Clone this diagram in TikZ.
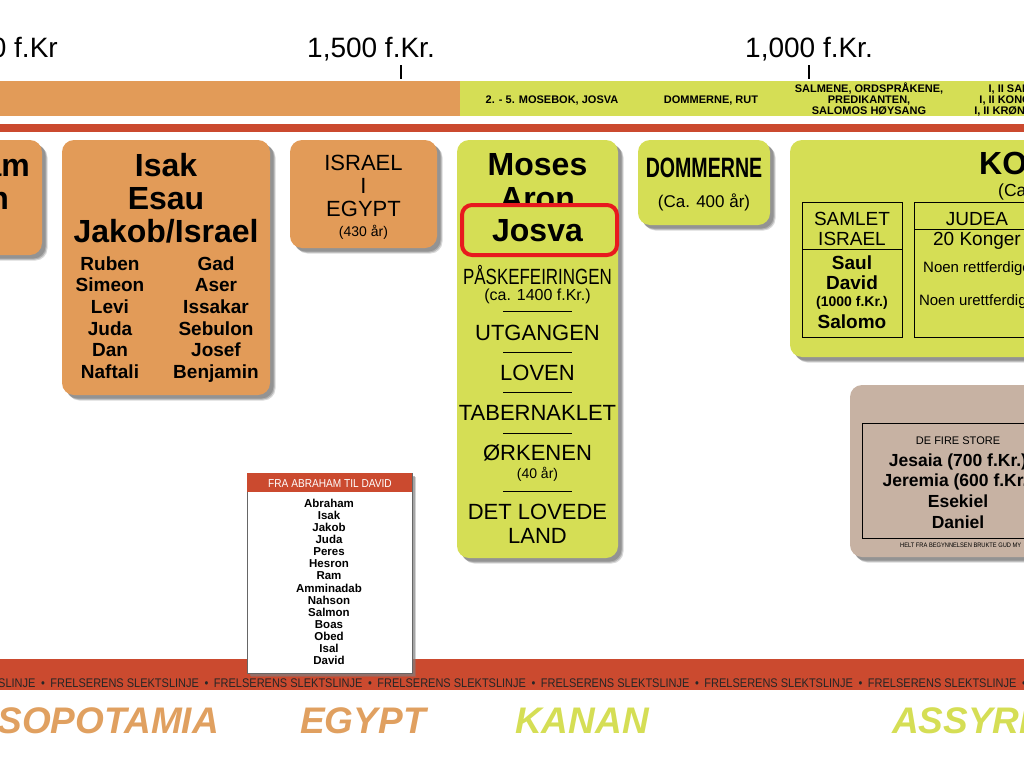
\documentclass[tikz,border=0pt]{standalone}
\usepackage{fontspec}
\setmainfont{Liberation Sans}
\newfontfamily\narrowfont[FakeStretch=0.88]{Liberation Sans}
\newfontfamily\pressfont[FakeStretch=0.77]{Liberation Sans}
\newfontfamily\tightfont[FakeStretch=0.70]{Liberation Sans}
\usetikzlibrary{shadows}

\definecolor{ochre}{RGB}{226,155,88}
\definecolor{lime}{RGB}{213,222,85}
\definecolor{brick}{RGB}{203,74,47}
\definecolor{taupe}{RGB}{199,178,163}
\definecolor{signal}{RGB}{232,25,30}
\definecolor{ochretext}{RGB}{224,160,96}

\begin{document}
\begin{tikzpicture}[
  x=1pt, y=-1pt,
  every node/.style={inner sep=0pt, anchor=base},
  panel/.style={rounded corners=12pt,
    drop shadow={shadow xshift=5.5pt, shadow yshift=-5.5pt, opacity=.3},
    drop shadow={shadow xshift=4.5pt, shadow yshift=-4.5pt, opacity=.45},
    drop shadow={shadow xshift=3.5pt, shadow yshift=-3.5pt, opacity=.6}},
  year/.style={font=\fontsize{28}{30}\selectfont},
  bandtext/.style={font=\bfseries\fontsize{11}{12}\selectfont},
  heading/.style={font=\bfseries\fontsize{32}{34}\selectfont},
  tribe/.style={font=\bfseries\fontsize{19}{21}\selectfont},
  caps/.style={font=\fontsize{22}{24}\selectfont},
  note/.style={font=\fontsize{14}{16}\selectfont},
  cell/.style={font=\fontsize{19}{21}\selectfont},
  cellbold/.style={font=\bfseries\fontsize{19}{21}\selectfont},
  prophet/.style={font=\bfseries\fontsize{17.5}{19}\selectfont},
  region/.style={font=\bfseries\itshape\fontsize{37}{40}\selectfont}
]
\useasboundingbox (0,0) rectangle (1024,768);
\clip (0,0) rectangle (1024,768);

% timeline
\node[year, anchor=base east] (t2000) at (58,57) {2,000 f.Kr};
\node[year] (t1500) at (371,57) {1,500 f.Kr.};
\node[year] (t1000) at (809,57) {1,000 f.Kr.};
\draw[line width=1.3pt] (401,65) -- (401,79);
\draw[line width=1.3pt] (809,65) -- (809,79);

\fill[ochre] (0,81) rectangle (460,116);
\fill[lime] (460,81) rectangle (1024,116);
\fill[brick] (0,124) rectangle (1024,132);

\node[bandtext] (book1) at (552,103) {2. - 5. MOSEBOK, JOSVA};
\node[bandtext] (book2) at (711,103) {DOMMERNE, RUT};
\node[bandtext] (book3a) at (869,92) {SALMENE, ORDSPRÅKENE,};
\node[bandtext] (book3b) at (869,103) {PREDIKANTEN,};
\node[bandtext] (book3c) at (869,114) {SALOMOS HØYSANG};
\node[bandtext] (book4a) at (1021,92) {I, II SAMUEL};
\node[bandtext] (book4b) at (1021,103) {I, II KONGEBOK};
\node[bandtext] (book4c) at (1021,114) {I, II KRØNIKEBOK};

% patriarchs
\path[panel, fill=ochre] (-30,140) rectangle (42,255);
\node[heading, anchor=base east] (abr1) at (30,176) {Abraham};
\node[heading, anchor=base east] (abr2) at (9,209) {n};

\path[panel, fill=ochre] (62,140) rectangle (270,395);
\node[heading] (isak) at (166,176) {Isak};
\node[heading] (esau) at (166,209) {Esau};
\node[heading] (jakob) at (166,242) {Jakob/Israel};
\foreach \l/\r [count=\k from 0] in {Ruben/Gad, Simeon/Aser, Levi/Issakar, Juda/Sebulon, Dan/Josef, Naftali/Benjamin} {
  \node[tribe] (son\k a) at (110,{270+21.7*\k}) {\l};
  \node[tribe] (son\k b) at (216,{270+21.7*\k}) {\r};
}

\path[panel, fill=ochre] (290,140) rectangle (437,248);
\node[caps] (isr) at (363.5,170) {ISRAEL};
\node[caps] (isri) at (363.5,193) {I};
\node[caps] (egy) at (363.5,216) {EGYPT};
\node[note] (egyyrs) at (363.5,236) {(430 år)};

% exodus
\path[panel, fill=lime] (457,140) rectangle (618,558);
\node[heading] (moses) at (537.5,175) {Moses};
\node[heading] (aron) at (537.5,209) {Aron};
\draw[signal, line width=4pt, fill=lime, rounded corners=10pt] (462,205) rectangle (617,255);
\node[heading] (josva) at (537.5,241) {Josva};
\node[font=\pressfont\fontsize{22}{24}\selectfont] (pask) at (537.5,284) {PÅSKEFEIRINGEN};
\node[font=\fontsize{16}{18}\selectfont] (paskyr) at (537.5,300) {(ca. 1400 f.Kr.)};
\node[caps] (utg) at (537.5,340) {UTGANGEN};
\node[caps] (lov) at (537.5,380) {LOVEN};
\node[caps] (tab) at (537.5,420) {TABERNAKLET};
\node[caps] (ork) at (537.5,460) {ØRKENEN};
\node[note] (orkyrs) at (537.5,478) {(40 år)};
\node[caps] (land1) at (537.5,519) {DET LOVEDE};
\node[caps] (land2) at (537.5,543) {LAND};
\foreach \y in {311,352,392,433,491}
  \draw[line width=.8pt] (503,\y) -- (572,\y);

\path[panel, fill=lime] (638,140) rectangle (770,225);
\node[font=\tightfont\bfseries\fontsize{28}{30}\selectfont] (domm) at (704,177) {DOMMERNE};
\node[font=\fontsize{17}{19}\selectfont] (dommyrs) at (704,207) {(Ca. 400 år)};

% kings
\path[panel, fill=lime] (790,140) rectangle (1060,357);
\node[heading, anchor=base west] (kong) at (979,174) {KONGENE};
\node[font=\fontsize{17.5}{20}\selectfont, anchor=base west] (kongyrs) at (998,196) {(Ca.};
\draw[line width=1pt] (802,202) rectangle (902,337);
\draw[line width=1pt] (802,249) -- (902,249);
\node[cell] (saml1) at (852,225) {SAMLET};
\node[cell] (saml2) at (852,245) {ISRAEL};
\node[cellbold] (saul) at (852,269) {Saul};
\node[cellbold] (david) at (852,289) {David};
\node[font=\bfseries\fontsize{14}{16}\selectfont] (davidyr) at (852,306) {(1000 f.Kr.)};
\node[cellbold] (salomo) at (852,328) {Salomo};
\draw[line width=1pt] (914,202) rectangle (1060,337);
\draw[line width=1pt] (914,229) -- (1060,229);
\node[cell] (judea) at (977,225) {JUDEA};
\node[cell] (judkong) at (977,245) {20 Konger};
\node[font=\fontsize{15}{17}\selectfont] (judgood) at (977,272) {Noen rettferdige};
\node[font=\fontsize{15}{17}\selectfont] (judbad) at (977,305) {Noen urettferdige};

% prophets
\path[panel, fill=taupe] (850,385) rectangle (1060,557);
\draw[line width=.8pt] (862,423) rectangle (1060,538);
\node[font=\fontsize{11}{13}\selectfont] (fire) at (958,444) {DE FIRE STORE};
\node[prophet] (jes) at (958,466) {Jesaia (700 f.Kr.)};
\node[prophet] (jer) at (958,486) {Jeremia (600 f.Kr.)};
\node[prophet] (ese) at (958,507) {Esekiel};
\node[prophet] (dan) at (958,528) {Daniel};
\node[font=\narrowfont\fontsize{6.5}{7}\selectfont, anchor=base west] (helt) at (900,547) {HELT FRA BEGYNNELSEN BRUKTE GUD MY};

% line of descent
\fill[brick] (0,659) rectangle (1024,690);
\foreach \k in {-1,...,6} {
  \node[font=\narrowfont\fontsize{12.5}{14}\selectfont, black!85] (dot\k) at ({43+163.5*\k},687) {•};
  \node[font=\narrowfont\fontsize{12.5}{14}\selectfont, black!85] (line\k) at ({124.75+163.5*\k},687) {FRELSERENS SLEKTSLINJE};
}

\path[drop shadow={shadow xshift=4pt, shadow yshift=-4pt, opacity=.35},
      drop shadow={shadow xshift=3pt, shadow yshift=-3pt, opacity=.55},
      fill=white, draw=black!60, line width=.6pt] (247,473) rectangle (412,673);
\fill[brick] (247,473) rectangle (412,492);
\node[font=\narrowfont\fontsize{11.5}{13}\selectfont, white] (fra) at (330,487) {FRA ABRAHAM TIL DAVID};
\foreach \n [count=\k from 0] in {Abraham, Isak, Jakob, Juda, Peres, Hesron, Ram, Amminadab, Nahson, Salmon, Boas, Obed, Isal, David}
  \node[font=\bfseries\fontsize{11.5}{13}\selectfont] (anc\k) at (329,{507+12.15*\k}) {\n};

% regions
\node[region, ochretext, anchor=base east] (meso) at (219,733) {MESOPOTAMIA};
\node[region, ochretext, anchor=base west] (egypt) at (300,733) {EGYPT};
\node[region, lime, anchor=base west] (kanan) at (515,733) {KANAN};
\node[region, lime, anchor=base west] (assyr) at (892,733) {ASSYRIA};
\end{tikzpicture}
\end{document}
